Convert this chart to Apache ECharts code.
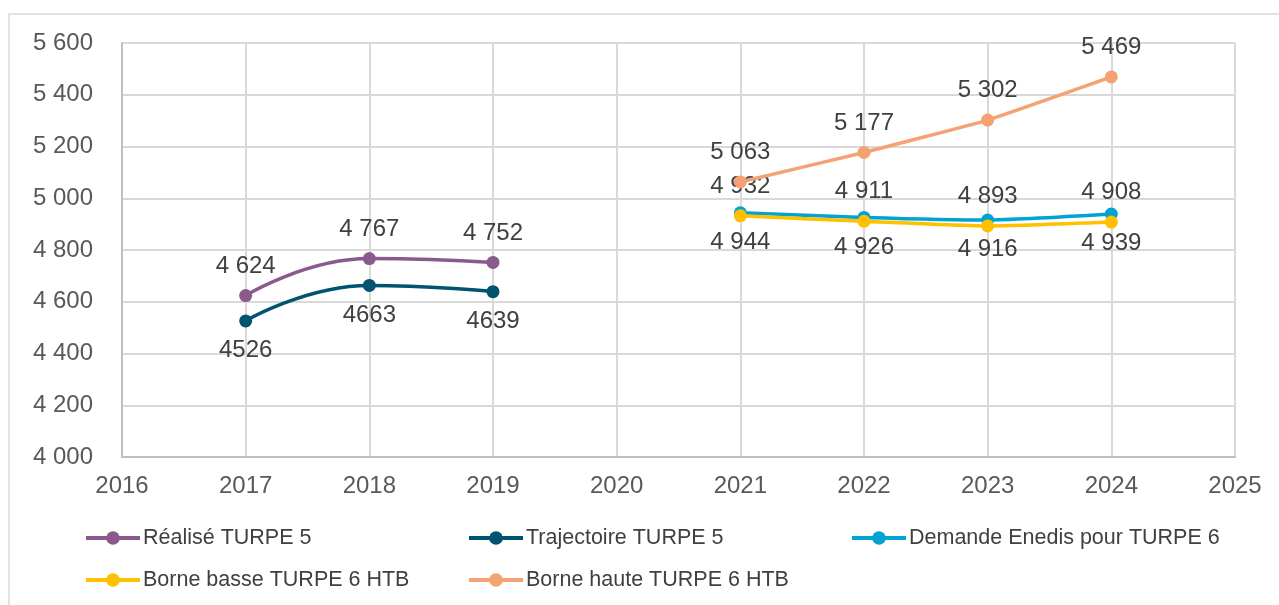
<!DOCTYPE html>
<html>
<head>
<meta charset="utf-8">
<script src="https://cdn.jsdelivr.net/npm/echarts@6/dist/echarts.min.js"></script>
<style>
  html, body { margin: 0; padding: 0; background: #fff; }
  #chart { width: 1279px; height: 605px; }
</style>
</head>
<body>
<div id="chart"></div>
<script>
const yearsTurpe5 = [2017, 2018, 2019]
const yearsTurpe6 = [2021, 2022, 2023, 2024]
const realise = [4624, 4767, 4752]
const trajectoire = [4526, 4663, 4639]
const demande = [4944, 4926, 4916, 4939]
const borneBasse = [4932, 4911, 4893, 4908]
const borneHaute = [5063, 5177, 5302, 5469]
const seriesNames = ['Réalisé TURPE 5', 'Trajectoire TURPE 5', 'Demande Enedis pour TURPE 6', 'Borne basse TURPE 6 HTB', 'Borne haute TURPE 6 HTB']
const colors = ['#8B5A8C', '#00546F', '#00A3D1', '#FFC000', '#F4A273']

const FONT = 'Liberation Sans'
const spaced = (v) => String(v).replace(/\B(?=(\d{3})+(?!\d))/g, ' ')
const pairs = (xs, ys) => xs.map((x, i) => [x, ys[i]])

const makeSeries = (idx, xs, ys, pos, fmt, smooth) => ({
  name: seriesNames[idx],
  type: 'line',
  data: pairs(xs, ys),
  smooth: smooth,
  symbol: 'circle',
  symbolSize: 13,
  lineStyle: { width: 3.5, color: colors[idx] },
  itemStyle: { color: colors[idx] },
  label: {
    show: true,
    position: pos,
    distance: 11,
    fontFamily: FONT,
    fontSize: 24,
    color: '#404040',
    formatter: (p) => fmt(p.value[1])
  },
  z: 2 + idx
})

const legendAt = (idx, left, top) => ({
  data: [seriesNames[idx]],
  left: left,
  top: top,
  itemWidth: 54,
  itemHeight: 17,
  itemGap: 0,
  selectedMode: false,
  lineStyle: { width: 4 },
  textStyle: { fontFamily: FONT, fontSize: 21.5, color: '#404040', padding: [0, 0, 0, -2] }
})

const chart = echarts.init(document.getElementById('chart'))
chart.setOption({
  animation: false,
  graphic: [{
    type: 'rect',
    shape: { x: 9, y: 14, width: 1300, height: 700 },
    style: { fill: 'none', stroke: '#d9d9d9', lineWidth: 1.5 },
    silent: true
  }],
  grid: { left: 122, right: 44, top: 43, bottom: 148 },
  xAxis: {
    type: 'value',
    min: 2016,
    max: 2025,
    interval: 1,
    axisLine: { lineStyle: { color: '#bfbfbf', width: 2 } },
    axisTick: { show: false },
    splitLine: { lineStyle: { color: '#d9d9d9', width: 2 } },
    axisLabel: { fontFamily: FONT, fontSize: 24, color: '#595959', margin: 17, formatter: (v) => String(v) }
  },
  yAxis: {
    type: 'value',
    min: 4000,
    max: 5600,
    interval: 200,
    axisLine: { show: true, lineStyle: { color: '#bfbfbf', width: 2 } },
    axisTick: { show: false },
    splitLine: { lineStyle: { color: '#d9d9d9', width: 2 } },
    axisLabel: { fontFamily: FONT, fontSize: 24, color: '#595959', margin: 29, formatter: spaced }
  },
  legend: [
    legendAt(0, 79, 522),
    legendAt(1, 462, 522),
    legendAt(2, 845, 522),
    legendAt(3, 79, 564),
    legendAt(4, 462, 564)
  ],
  series: [
    makeSeries(0, yearsTurpe5, realise, 'top', spaced, 0.5),
    makeSeries(1, yearsTurpe5, trajectoire, 'bottom', String, 0.5),
    makeSeries(2, yearsTurpe6, demande, 'bottom', spaced, 0.2),
    makeSeries(3, yearsTurpe6, borneBasse, 'top', spaced, 0.2),
    makeSeries(4, yearsTurpe6, borneHaute, 'top', spaced, 0.1)
  ]
})
</script>
</body>
</html>
